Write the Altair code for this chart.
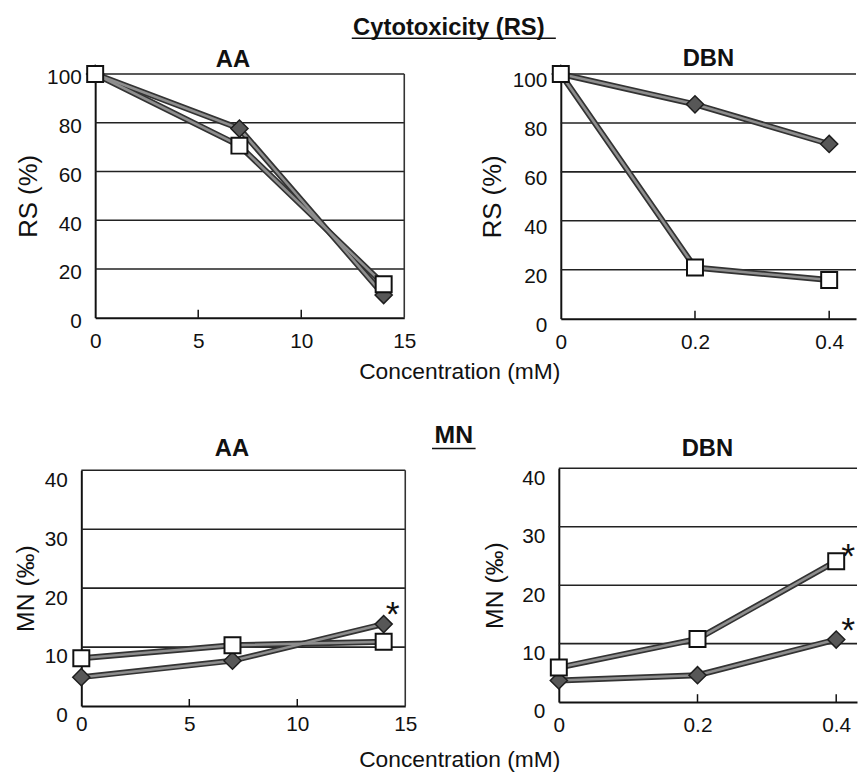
import altair as alt
import pandas as pd

# ---------------- data ----------------
conc_AA = [0, 7, 14]
conc_DBN = [0, 0.2, 0.4]

rs_AA_diamond = [100, 77.6, 9.3]
rs_AA_square = [100, 70.6, 13.7]
rs_DBN_diamond = [100, 87.6, 71.4]
rs_DBN_square = [100, 20.9, 15.8]

mn_AA_diamond = [4.9, 7.7, 13.9]
mn_AA_square = [8.1, 10.3, 10.9]
mn_DBN_diamond = [3.7, 4.6, 10.7]
mn_DBN_square = [5.9, 10.8, 24.1]

# significance flags (*)
mn_AA_diamond_sig = [0, 0, 1]
mn_AA_square_sig = [0, 0, 0]
mn_DBN_diamond_sig = [0, 0, 1]
mn_DBN_square_sig = [0, 0, 1]

x_ticks_AA = [0, 5, 10, 15]
x_ticks_DBN = [0, 0.2, 0.4]
y_ticks_RS = [0, 20, 40, 60, 80, 100]
y_ticks_MN = [0, 10, 20, 30, 40]
grid_RS = [20, 40, 60, 80, 100]
grid_MN = [10, 20, 30, 40]

main_titles = ["Cytotoxicity (RS)", "MN"]
panel_titles = ["AA", "DBN"]
x_title = "Concentration (mM)"
y_title_RS = "RS (%)"
y_title_MN = "MN (‰)"

FONT = "Liberation Sans"
W, H = 858, 768
INK = "#111111"


def panel(conc, dia, sq, dia_sig, sq_sig, x_dom, x_rng, y_dom, y_rng,
          xvals, xfmt, yvals, grid, border, tick_len,
          x_off, x_lpad, y_off, y_loff, ytitle, y_tsize, y_tpad,
          star_dx, star_dy_sq, star_dy_dia):
    xs = alt.Scale(domain=x_dom, range=x_rng, nice=False, zero=False)
    ys = alt.Scale(domain=y_dom, range=y_rng, nice=False, zero=False)
    xa = alt.Axis(orient="bottom", offset=x_off, values=xvals, format=xfmt,
                  labelFlush=False, labelOverlap=False, ticks=False, grid=False,
                  title=None, labelPadding=x_lpad, labelFontSize=21, labelFont=FONT,
                  labelColor=INK, domainColor=INK, domainWidth=2)
    ya = alt.Axis(orient="left", offset=y_off, values=yvals, ticks=False, grid=False,
                  labelFlush=False, labelOverlap=False, labelPadding=14,
                  labelOffset=y_loff, labelFontSize=21, labelFont=FONT,
                  labelColor=INK, domainColor=INK, domainWidth=2,
                  title=ytitle, titleFont=FONT, titleFontSize=y_tsize,
                  titleFontWeight="normal", titleColor=INK, titlePadding=y_tpad)

    def X(f="x"):
        return alt.X(f"{f}:Q", scale=xs, axis=xa)

    def Y(f="y"):
        return alt.Y(f"{f}:Q", scale=ys, axis=ya)

    grid_df = pd.DataFrame({"y": grid, "x": [x_dom[0]] * len(grid), "x2": [x_dom[1]] * len(grid)})
    grid_layer = alt.Chart(grid_df).mark_rule(color="#222222", strokeWidth=1.6).encode(
        x=X(), x2="x2:Q", y=Y())

    layers = [grid_layer]
    if border:
        b_df = pd.DataFrame({"x": [x_dom[1]], "y": [y_dom[0]], "y2": [y_dom[1]]})
        layers.append(alt.Chart(b_df).mark_rule(color="#333333", strokeWidth=1.6).encode(
            x=X(), y=Y(), y2="y2:Q"))

    tk = [v for v in xvals if v not in (x_dom[0], x_dom[1])]
    t_df = pd.DataFrame({"x": tk, "y": [y_dom[0]] * len(tk), "y2": [tick_len] * len(tk)})
    layers.append(alt.Chart(t_df).mark_rule(color=INK, strokeWidth=1.5).encode(
        x=X(), y=Y(), y2="y2:Q"))

    df = pd.DataFrame({
        "x": conc + conc,
        "y": dia + sq,
        "s": ["diamond"] * len(conc) + ["square"] * len(conc),
        "sig": dia_sig + sq_sig,
    })
    layers.append(alt.Chart(df).mark_line(color="#333333", strokeWidth=6).encode(
        x=X(), y=Y(), detail="s:N"))
    layers.append(alt.Chart(df).mark_line(color="#8e8e8e", strokeWidth=2.6).encode(
        x=X(), y=Y(), detail="s:N"))
    layers.append(alt.Chart(df).transform_filter(alt.datum.s == "diamond").mark_point(
        shape="diamond", filled=True, size=300, color="#575757", stroke="#1e1e1e",
        strokeWidth=1.5, opacity=1).encode(x=X(), y=Y()))
    layers.append(alt.Chart(df).transform_filter(alt.datum.s == "square").mark_point(
        shape="square", filled=True, size=260, color="white", stroke=INK,
        strokeWidth=2, opacity=1).encode(x=X(), y=Y()))
    layers.append(alt.Chart(df).transform_filter(
        (alt.datum.sig == 1) & (alt.datum.s == "square")).mark_text(
        text="*", font=FONT, fontSize=36, align="center", baseline="alphabetic",
        dx=star_dx, dy=star_dy_sq, color=INK).encode(x=X(), y=Y()))
    layers.append(alt.Chart(df).transform_filter(
        (alt.datum.sig == 1) & (alt.datum.s == "diamond")).mark_text(
        text="*", font=FONT, fontSize=36, align="center", baseline="alphabetic",
        dx=star_dx, dy=star_dy_dia, color=INK).encode(x=X(), y=Y()))
    return alt.layer(*layers)


TL = panel(conc_AA, rs_AA_diamond, rs_AA_square, [0, 0, 0], [0, 0, 0],
           [0, 15], [88, 400], [0, 100], [309, 63],
           x_ticks_AA, "d", y_ticks_RS, grid_RS, True, 3.3,
           309 - H, 13, -88, 4, y_title_RS, 26, 5, 9, 0, 0)
TR = panel(conc_DBN, rs_DBN_diamond, rs_DBN_square, [0, 0, 0], [0, 0, 0],
           [0, 0.44], [558, 856], [0, 100], [310, 63],
           x_ticks_DBN, ".1~f", y_ticks_RS, grid_RS, False, 3.2,
           310 - H, 13, -558, 7, y_title_RS, 26, 7, 9, 0, 0)
BL = panel(conc_AA, mn_AA_diamond, mn_AA_square, mn_AA_diamond_sig, mn_AA_square_sig,
           [0, 15], [74, 401], [0, 40], [701, 463],
           x_ticks_AA, "d", y_ticks_MN, grid_MN, True, 1.2,
           701 - H, 7.5, -74, 10, y_title_MN, 25, 6, 9, 2, 2)
BR = panel(conc_DBN, mn_DBN_diamond, mn_DBN_square, mn_DBN_diamond_sig, mn_DBN_square_sig,
           [0, 0.43], [556, 857], [0, 40], [697, 461],
           x_ticks_DBN, ".1~f", y_ticks_MN, grid_MN, False, 1.35,
           697 - H, 13, -556, 10, y_title_MN, 25, 14, 12, 7, 2)


def label(text, x, y, size, bold=False):
    return alt.Chart(pd.DataFrame({"t": [text]})).mark_text(
        font=FONT, fontSize=size, fontWeight="bold" if bold else "normal",
        align="center", baseline="alphabetic", color=INK).encode(
        x=alt.value(x), y=alt.value(y), text="t:N")


def underline(x1, x2, y):
    return alt.Chart(pd.DataFrame({"a": [0]})).mark_rule(color=INK, strokeWidth=1.6).encode(
        x=alt.value(x1), x2=alt.value(x2), y=alt.value(y))


texts = [
    label(main_titles[0], 445, 24, 24, True),
    underline(347, 553, 27),
    label(main_titles[1], 450, 435, 25, True),
    underline(428, 472, 441),
    label(panel_titles[0], 227, 56, 24, True),
    label(panel_titles[1], 707, 55, 24, True),
    label(panel_titles[0], 226, 449, 24, True),
    label(panel_titles[1], 706, 449, 24, True),
    label(x_title, 456, 371, 23),
    label(x_title, 456, 763, 23),
]

chart = alt.layer(TL, TR, BL, BR, *texts).resolve_scale(
    x="independent", y="independent"
).properties(
    width=W, height=H, padding=0,
    autosize=alt.AutoSizeParams(type="none"),
    background="white",
).configure_view(strokeWidth=0)

chart.save("out.html", embed_options={"renderer": "svg", "actions": False})
